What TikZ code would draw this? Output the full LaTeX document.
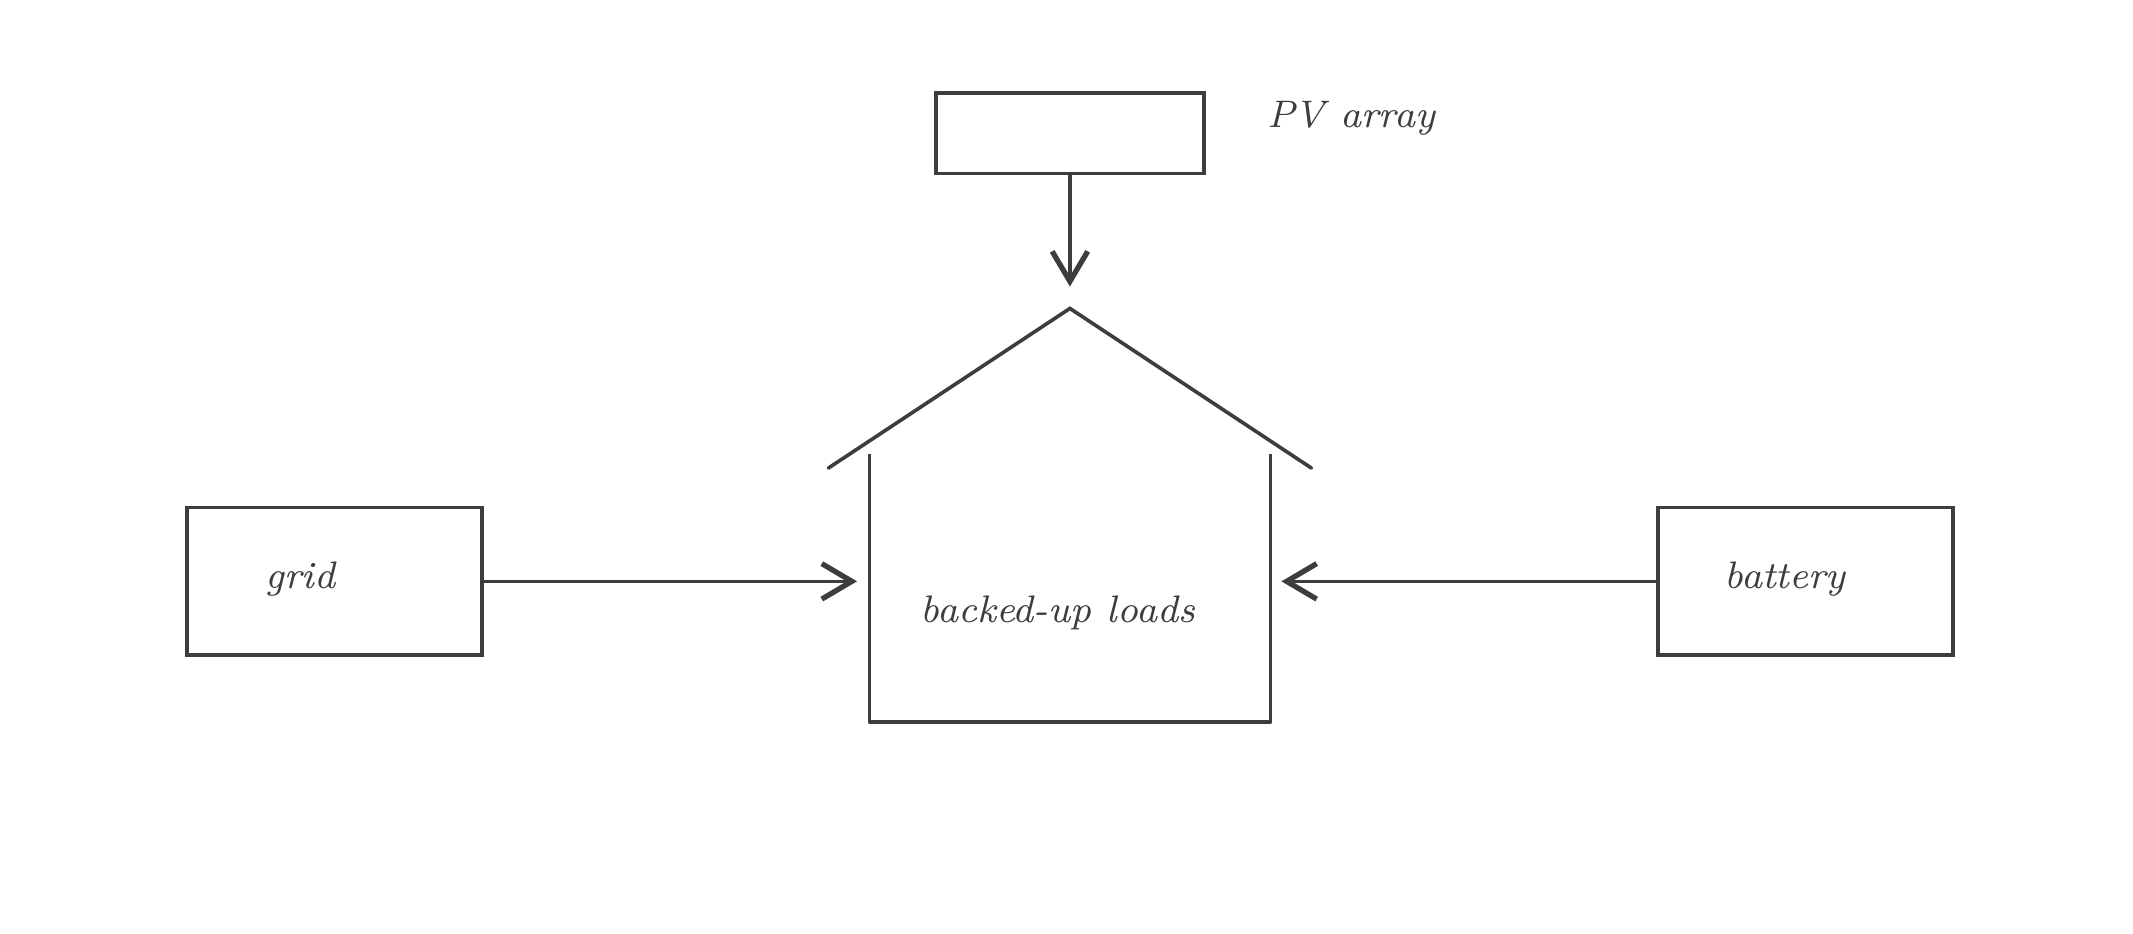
\documentclass[tikz,border=0pt]{standalone}
\usepackage{tikz}
\usetikzlibrary{arrows.meta}
\definecolor{ink}{HTML}{3D3D40}
\tikzset{
box/.style={draw=ink, line width=0.75pt, minimum width=2.16cm, minimum height=1.08cm, inner sep=0pt},
wire/.style={draw=ink, line width=0.75pt, -{Straight Barb[length=2.2mm,width=2.6mm,line width=1.1pt]}},
lbl/.style={text=ink, font=\itshape\fontsize{8}{9}\selectfont}}
\begin{document}
\begin{tikzpicture}[x=0.01cm,y=0.01cm]
    \useasboundingbox (0,0) rectangle (1563,684);

                \node[box, minimum width=1.96cm, minimum height=0.59cm] (pv) at (784,586.5) {};
                \node[lbl] (pvlabel) at (990,597) {PV array};
                \node[box] (grid) at (245,258) {};
                \node[lbl] (gridlabel) at (220,260) {grid};
                \node[box] (battery) at (1323,258) {};
                \node[lbl] (batterylabel) at (1308,260) {battery};

                \coordinate (roofL) at (607,341);
                \coordinate (roofT) at (784,458);
                \coordinate (roofR) at (961,341);
                \coordinate (doorL) at (628,258);
                \coordinate (doorR) at (939,258);
                \coordinate (top) at (784,474);

                \draw[ink, line width=0.75pt, line cap=round] (roofL) -- (roofT) -- (roofR);
                \draw[ink, line width=0.75pt, line join=round] (637,351) -- (637,155) -- (931,155) -- (931,351);
                \node[lbl] (loads) at (775,235) {backed-up loads};

                \draw[wire] (pv) -- (top);
                \draw[wire] (grid) -- (doorL);
                \draw[wire] (battery) -- (doorR);

\end{tikzpicture}
\end{document}
